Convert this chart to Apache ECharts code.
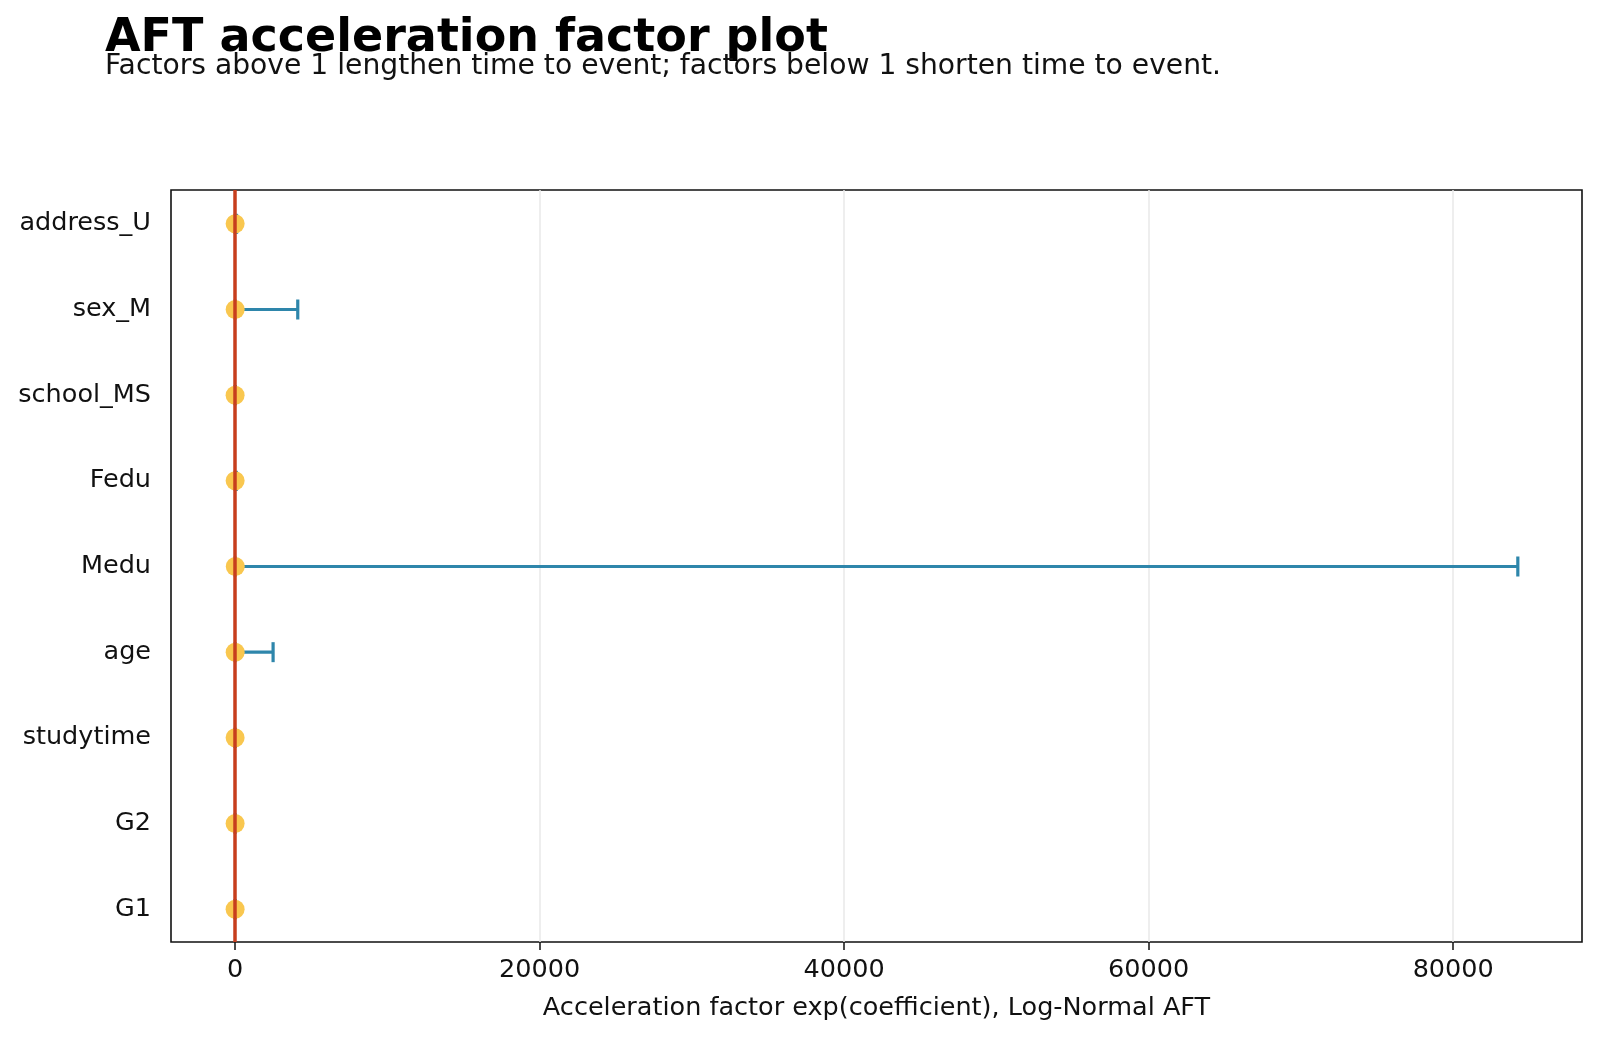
<!DOCTYPE html>
<html>
<head>
<meta charset="utf-8">
<title>AFT acceleration factor plot</title>
<script src="https://cdn.jsdelivr.net/npm/echarts@6/dist/echarts.min.js"></script>
<style>
  html, body { margin: 0; padding: 0; background: #fff; }
  #main { width: 1600px; height: 1041px; }
</style>
</head>
<body>
<div id="main"></div>
<script>
// covariates, top to bottom as drawn
var names = ['address_U', 'sex_M', 'school_MS', 'Fedu', 'Medu', 'age', 'studytime', 'G2', 'G1'];
// exp(coef) and 95% CI bounds
var factor = [2.4, 4.5, 0.8, 2.1, 11.5, 5.6, 0.9, 1.03, 1.02];
var lower = [0.06, 0.005, 0.08, 0.06, 0.002, 0.01, 0.3, 0.9, 0.95];
var upper = [95, 4115, 8, 80, 84245, 2495, 3, 1.2, 1.3];
var xTicks = [0, 20000, 40000, 60000, 80000];
var refValue = 1;

var xMin = -4210, xMax = 88460;
var font = 'DejaVu Sans';

var chart = echarts.init(document.getElementById('main'));

// errorbar: line from lower to upper with caps at both ends
function renderBar(params, api) {
  var y = api.value(0);
  var p1 = api.coord([api.value(1), y]);
  var p2 = api.coord([api.value(2), y]);
  var cap = 10;
  var st = { stroke: '#2E86AB', lineWidth: 3.2 };
  return {
    type: 'group',
    children: [
      { type: 'line', shape: { x1: p1[0], y1: p1[1], x2: p2[0], y2: p2[1] }, style: st },
      { type: 'line', shape: { x1: p1[0], y1: p1[1] - cap, x2: p1[0], y2: p1[1] + cap }, style: st },
      { type: 'line', shape: { x1: p2[0], y1: p2[1] - cap, x2: p2[0], y2: p2[1] + cap }, style: st }
    ]
  };
}

var barData = names.map(function (n, i) { return [n, lower[i], upper[i]]; });
var dotData = names.map(function (n, i) { return [factor[i], n]; });

var option = {
  backgroundColor: '#fff',
  animation: false,
  title: [
    {
      text: 'AFT acceleration factor plot',
      left: 100, top: 11,
      textStyle: { fontFamily: font, fontSize: 46, fontWeight: 'bold', color: '#000' }
    },
    {
      text: 'Factors above 1 lengthen time to event; factors below 1 shorten time to event.',
      left: 100, top: 48,
      textStyle: { fontFamily: font, fontSize: 28.2, fontWeight: 'normal', color: '#111' }
    }
  ],
  grid: [
    // frame + x axis
    { left: 171, right: 18, top: 190, bottom: 99, show: true, borderColor: '#111', borderWidth: 1.6, backgroundColor: 'transparent' },
    // rows for the covariates (matplotlib puts 0.4 of a step of padding at each end)
    { left: 171, right: 18, top: 181, bottom: 89 }
  ],
  xAxis: [
    {
      gridIndex: 0, type: 'value', min: xMin, max: xMax, splitNumber: 5,
      name: 'Acceleration factor exp(coefficient), Log-Normal AFT',
      nameLocation: 'middle', nameGap: 53,
      nameTextStyle: { fontFamily: font, fontSize: 25.5, color: '#111', verticalAlign: 'top' },
      axisLine: { show: false },
      axisTick: { show: true, length: 8, lineStyle: { color: '#111', width: 1.5 }, customValues: xTicks },
      axisLabel: {
        fontFamily: font, fontSize: 25.5, color: '#111', margin: 15, customValues: xTicks,
        formatter: function (v) { return String(v); }
      },
      splitLine: { show: true, lineStyle: { color: '#e8e8e8', width: 1.5 } }
    },
    {
      gridIndex: 1, type: 'value', min: xMin, max: xMax,
      show: false
    }
  ],
  yAxis: [
    {
      gridIndex: 0, type: 'value', min: 0, max: 1,
      axisLine: { show: false }, axisTick: { show: false }, axisLabel: { show: false }, splitLine: { show: false }
    },
    {
      gridIndex: 1, type: 'category', data: names, inverse: true,
      axisLine: { show: false },
      axisTick: { show: true, alignWithLabel: true, length: 8, lineStyle: { color: '#111', width: 1.5 } },
      axisLabel: { fontFamily: font, fontSize: 25.5, color: '#111', margin: 20 },
      splitLine: { show: false }
    }
  ],
  series: [
    {
      // reference line at 1
      type: 'scatter', xAxisIndex: 0, yAxisIndex: 0, data: [], z: 1,
      markLine: {
        silent: true, symbol: 'none',
        label: { show: false },
        lineStyle: { color: '#C73E1D', width: 3.5, type: 'solid' },
        data: [{ xAxis: refValue }]
      }
    },
    {
      type: 'custom', xAxisIndex: 1, yAxisIndex: 1, z: 2,
      renderItem: renderBar,
      encode: { y: 0, x: [1, 2] },
      data: barData
    },
    {
      type: 'scatter', xAxisIndex: 1, yAxisIndex: 1, z: 3,
      symbol: 'circle', symbolSize: 19,
      itemStyle: { color: '#F9C74F', opacity: 1 },
      data: dotData
    }
  ]
};

chart.setOption(option);
</script>
</body>
</html>
